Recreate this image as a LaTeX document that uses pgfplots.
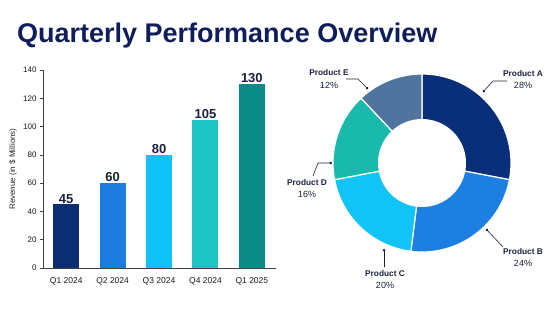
\documentclass[border=0pt]{standalone}
\usepackage{fontspec}
\setmainfont{Liberation Sans}
\usepackage{pgfplots}
\pgfplotsset{compat=1.18}
\usetikzlibrary{arrows.meta}
\definecolor{titlecol}{HTML}{0F1D5A}
\definecolor{txt}{HTML}{1A1F3D}
\definecolor{barA}{HTML}{0B2D72}
\definecolor{barB}{HTML}{1E7BE0}
\definecolor{barC}{HTML}{10C2F7}
\definecolor{barD}{HTML}{1DC4C4}
\definecolor{barE}{HTML}{0B8A86}
\definecolor{pieA}{HTML}{0A2F7A}
\definecolor{pieB}{HTML}{1D7FE2}
\definecolor{pieC}{HTML}{12C3F6}
\definecolor{pieD}{HTML}{19B9AB}
\definecolor{pieE}{HTML}{51749F}
\newcommand\slice[3]{%
  \addplot[fill=#1, draw=white, line width=1.2pt, domain=90-3.6*(#2+#3):90-3.6*#2, samples=80, variable=\t]
    ({89*cos(\t)},{89*sin(\t)}) -- (axis cs:0,0) -- cycle;}
\begin{document}
\begin{tikzpicture}
\useasboundingbox (0,0) rectangle (560pt,-314pt);
\node[anchor=base west, inner sep=0, text=titlecol, font=\fontsize{27}{30}\selectfont\bfseries] at (17pt,-42pt) {Quarterly Performance Overview};
% bar chart
\begin{axis}[
  at={(43pt,-268pt)}, anchor=south west,
  scale only axis, width=233pt, height=198pt,
  xmin=-0.5, xmax=4.52, ymin=0, ymax=140,
  axis x line=bottom, axis y line=left,
  axis line style={draw=black!75, line width=0.7pt, -},
  ytick={0,20,...,140}, xtick={0,1,2,3,4},
  xticklabels={Q1 2024,Q2 2024,Q3 2024,Q4 2024,Q1 2025},
  x tick style={draw=none},
  y tick style={draw=black!75, line width=0.6pt},
  tick align=outside, major tick length=3pt,
  /pgf/number format/assume math mode=true,
  tick label style={font=\fontsize{8}{9}\selectfont, text=black!90},
  xticklabel style={yshift=-3pt, font=\fontsize{8.5}{9}\selectfont},
  ylabel={Revenue (in \$ Millions)},
  every axis y label/.style={at={(axis description cs:0,0.5)}, xshift=-30pt, rotate=90, anchor=center, font=\fontsize{8}{9}\selectfont, text=black!85},
  ybar, bar width=26pt,
  nodes near coords,
  every node near coord/.append style={font=\fontsize{13}{14}\selectfont\bfseries, text=txt, yshift=-2.5pt},
  clip=false,
]
\addplot[fill=barA, draw=none, bar shift=0pt] coordinates {(0,45)};
\addplot[fill=barB, draw=none, bar shift=0pt] coordinates {(1,60)};
\addplot[fill=barC, draw=none, bar shift=0pt] coordinates {(2,80)};
\addplot[fill=barD, draw=none, bar shift=0pt] coordinates {(3,105)};
\addplot[fill=barE, draw=none, bar shift=0pt] coordinates {(4,130)};
\end{axis}
% donut
\begin{axis}[
  at={(422pt,-163pt)}, anchor=center,
  scale only axis, width=200pt, height=200pt,
  xmin=-100, xmax=100, ymin=-100, ymax=100,
  hide axis, clip=false,
]
\slice{pieA}{0}{28}
\slice{pieB}{28}{24}
\slice{pieC}{52}{20}
\slice{pieD}{72}{16}
\slice{pieE}{88}{12}
\addplot[fill=white, draw=none, domain=0:360, samples=120, variable=\t] ({44*cos(\t)},{44*sin(\t)});
\tikzset{lead/.style={draw=txt, line width=0.6pt, -{Circle[length=2.4pt]}},
  lab/.style={align=center, text=txt, font=\fontsize{9}{12.5}\selectfont, inner sep=0}}
\draw[lead] (axis cs:85,82) -- (axis cs:71,82) -- (axis cs:61,71);
\draw[lead] (axis cs:81,-84) -- (axis cs:64,-66);
\draw[lead] (axis cs:-38,-104) -- (axis cs:-38,-86);
\draw[lead] (axis cs:-109,-13) -- (axis cs:-104,0) -- (axis cs:-90,0);
\draw[lead] (axis cs:-76,84) -- (axis cs:-64,84) -- (axis cs:-54,74);
\node[lab] at (axis cs:101,83.5) {{\bfseries\fontsize{8.3}{12.5}\selectfont Product A}\\28\%};
\node[lab] at (axis cs:101,-94.5) {{\bfseries\fontsize{8.3}{12.5}\selectfont Product B}\\24\%};
\node[lab] at (axis cs:-37,-116.5) {{\bfseries\fontsize{8.3}{12.5}\selectfont Product C}\\20\%};
\node[lab] at (axis cs:-115,-25.5) {{\bfseries\fontsize{8.3}{12.5}\selectfont Product D}\\16\%};
\node[lab] at (axis cs:-93,84) {{\bfseries\fontsize{8.3}{12.5}\selectfont Product E}\\12\%};
\end{axis}
\end{tikzpicture}
\end{document}
